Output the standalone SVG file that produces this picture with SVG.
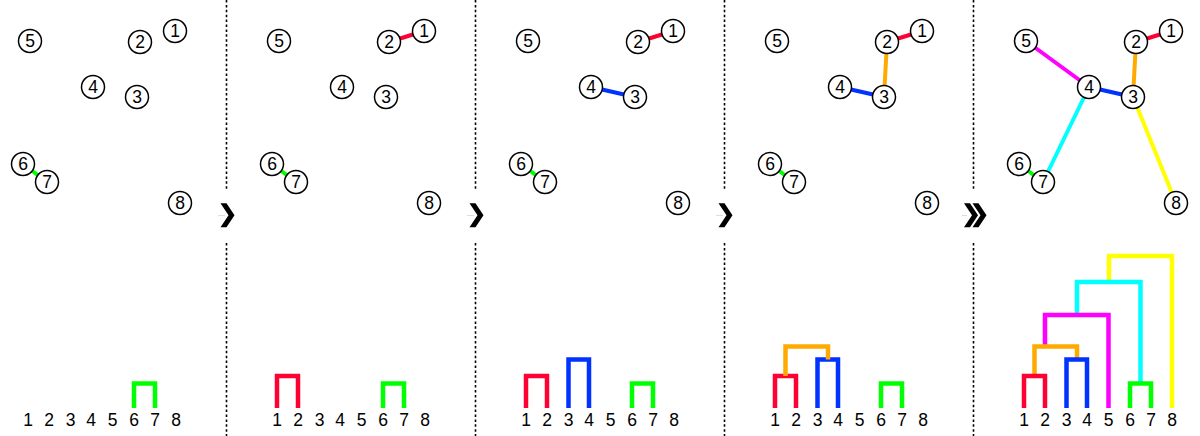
<svg xmlns="http://www.w3.org/2000/svg" width="1200" height="436" viewBox="0 0 1200 436">
<style>
.n circle{fill:#fff;stroke:#000;stroke-width:1.5}
.n text,.lbl{font-family:"Liberation Sans",Arial,sans-serif;font-size:17.5px;fill:#000;text-anchor:middle}
.e{stroke-width:4;stroke-linecap:butt;fill:none}
.d{stroke-width:4.5;fill:none;stroke-linejoin:miter}
.red{stroke:#ff0033}.orange{stroke:#ffaa00}.blue{stroke:#0033ff}.green{stroke:#00ff00}.magenta{stroke:#ff00ff}.cyan{stroke:#00ffff}.yellow{stroke:#ffff00}
.sep{stroke:#000;stroke-width:1.6;stroke-dasharray:2.5 2.4}
.chev{fill:#000}
</style>
<defs>
<g id="leaves">
<text class="lbl" x="28" y="425.5">1</text><text class="lbl" x="49" y="425.5">2</text><text class="lbl" x="70.5" y="425.5">3</text><text class="lbl" x="91" y="425.5">4</text><text class="lbl" x="112.5" y="425.5">5</text><text class="lbl" x="134" y="425.5">6</text><text class="lbl" x="155" y="425.5">7</text><text class="lbl" x="176" y="425.5">8</text>
</g>
<polygon id="chev" points="0,0 6,0 14,12 6,24 0,24 8,12"/>
</defs>

<!-- separators -->
<g id="separators">
<line class="sep" x1="226.5" y1="0" x2="226.5" y2="189"/><line class="sep" x1="226.5" y1="243" x2="226.5" y2="436"/>
<line class="sep" x1="475.5" y1="0" x2="475.5" y2="189"/><line class="sep" x1="475.5" y1="243" x2="475.5" y2="436"/>
<line class="sep" x1="724.5" y1="0" x2="724.5" y2="189"/><line class="sep" x1="724.5" y1="243" x2="724.5" y2="436"/>
<line class="sep" x1="973.5" y1="0" x2="973.5" y2="189"/><line class="sep" x1="973.5" y1="243" x2="973.5" y2="436"/>
</g>
<g id="arrows">
<line x1="218" y1="215.5" x2="225" y2="215.5" stroke="#ddd" stroke-width="1"/>
<use href="#chev" class="chev" x="220.5" y="203.3"/>
<line x1="467" y1="215.5" x2="474" y2="215.5" stroke="#ddd" stroke-width="1"/>
<use href="#chev" class="chev" x="469.5" y="203.3"/>
<line x1="716" y1="215.5" x2="723" y2="215.5" stroke="#ddd" stroke-width="1"/>
<use href="#chev" class="chev" x="718.5" y="203.3"/>
<line x1="962" y1="215.5" x2="967" y2="215.5" stroke="#ddd" stroke-width="1"/>
<use href="#chev" class="chev" x="964" y="203.3"/>
<use href="#chev" class="chev" x="972.5" y="203.3"/>
</g>

<!-- Panel 1 -->
<g id="panel1">
<g id="p1-connectors">
<line class="e green" x1="23" y1="164" x2="47" y2="182"/>
<path class="d green" d="M134,408V383.5H155V408"/>
</g>
<g class="n" id="p1-n1"><circle cx="175" cy="31" r="11.5"/><text x="175" y="37.3">1</text></g>
<g class="n" id="p1-n2"><circle cx="140" cy="42" r="11.5"/><text x="140" y="48.3">2</text></g>
<g class="n" id="p1-n3"><circle cx="137" cy="97" r="11.5"/><text x="137" y="103.3">3</text></g>
<g class="n" id="p1-n4"><circle cx="93" cy="87" r="11.5"/><text x="93" y="93.3">4</text></g>
<g class="n" id="p1-n5"><circle cx="30" cy="41" r="11.5"/><text x="30" y="47.3">5</text></g>
<g class="n" id="p1-n6"><circle cx="23" cy="164" r="11.5"/><text x="23" y="170.3">6</text></g>
<g class="n" id="p1-n7"><circle cx="47" cy="182" r="11.5"/><text x="47" y="188.3">7</text></g>
<g class="n" id="p1-n8"><circle cx="180" cy="203" r="11.5"/><text x="180" y="209.3">8</text></g>
<use href="#leaves"/>
</g>

<!-- Panel 2 -->
<g id="panel2" transform="translate(249,0)">
<g id="p2-connectors">
<line class="e red" x1="175" y1="31" x2="140" y2="42"/>
<line class="e green" x1="23" y1="164" x2="47" y2="182"/>
<path class="d red" d="M28,408V376H49V408"/>
<path class="d green" d="M134,408V383.5H155V408"/>
</g>
<g class="n" id="p2-n1"><circle cx="175" cy="31" r="11.5"/><text x="175" y="37.3">1</text></g>
<g class="n" id="p2-n2"><circle cx="140" cy="42" r="11.5"/><text x="140" y="48.3">2</text></g>
<g class="n" id="p2-n3"><circle cx="137" cy="97" r="11.5"/><text x="137" y="103.3">3</text></g>
<g class="n" id="p2-n4"><circle cx="93" cy="87" r="11.5"/><text x="93" y="93.3">4</text></g>
<g class="n" id="p2-n5"><circle cx="30" cy="41" r="11.5"/><text x="30" y="47.3">5</text></g>
<g class="n" id="p2-n6"><circle cx="23" cy="164" r="11.5"/><text x="23" y="170.3">6</text></g>
<g class="n" id="p2-n7"><circle cx="47" cy="182" r="11.5"/><text x="47" y="188.3">7</text></g>
<g class="n" id="p2-n8"><circle cx="180" cy="203" r="11.5"/><text x="180" y="209.3">8</text></g>
<use href="#leaves"/>
</g>

<!-- Panel 3 -->
<g id="panel3" transform="translate(498,0)">
<g id="p3-connectors">
<line class="e red" x1="175" y1="31" x2="140" y2="42"/>
<line class="e blue" x1="93" y1="87" x2="137" y2="97"/>
<line class="e green" x1="23" y1="164" x2="47" y2="182"/>
<path class="d red" d="M28,408V376H49V408"/>
<path class="d blue" d="M70.5,408V359.5H91V408"/>
<path class="d green" d="M134,408V383.5H155V408"/>
</g>
<g class="n" id="p3-n1"><circle cx="175" cy="31" r="11.5"/><text x="175" y="37.3">1</text></g>
<g class="n" id="p3-n2"><circle cx="140" cy="42" r="11.5"/><text x="140" y="48.3">2</text></g>
<g class="n" id="p3-n3"><circle cx="137" cy="97" r="11.5"/><text x="137" y="103.3">3</text></g>
<g class="n" id="p3-n4"><circle cx="93" cy="87" r="11.5"/><text x="93" y="93.3">4</text></g>
<g class="n" id="p3-n5"><circle cx="30" cy="41" r="11.5"/><text x="30" y="47.3">5</text></g>
<g class="n" id="p3-n6"><circle cx="23" cy="164" r="11.5"/><text x="23" y="170.3">6</text></g>
<g class="n" id="p3-n7"><circle cx="47" cy="182" r="11.5"/><text x="47" y="188.3">7</text></g>
<g class="n" id="p3-n8"><circle cx="180" cy="203" r="11.5"/><text x="180" y="209.3">8</text></g>
<use href="#leaves"/>
</g>

<!-- Panel 4 -->
<g id="panel4" transform="translate(747,0)">
<g id="p4-connectors">
<line class="e red" x1="175" y1="31" x2="140" y2="42"/>
<line class="e orange" x1="140" y1="42" x2="137" y2="97"/>
<line class="e blue" x1="93" y1="87" x2="137" y2="97"/>
<line class="e green" x1="23" y1="164" x2="47" y2="182"/>
<path class="d red" d="M28,408V376H49V408"/>
<path class="d blue" d="M70.5,408V359.5H91V408"/>
<path class="d orange" d="M38.5,376V346.5H81V359.5"/>
<path class="d green" d="M134,408V383.5H155V408"/>
</g>
<g class="n" id="p4-n1"><circle cx="175" cy="31" r="11.5"/><text x="175" y="37.3">1</text></g>
<g class="n" id="p4-n2"><circle cx="140" cy="42" r="11.5"/><text x="140" y="48.3">2</text></g>
<g class="n" id="p4-n3"><circle cx="137" cy="97" r="11.5"/><text x="137" y="103.3">3</text></g>
<g class="n" id="p4-n4"><circle cx="93" cy="87" r="11.5"/><text x="93" y="93.3">4</text></g>
<g class="n" id="p4-n5"><circle cx="30" cy="41" r="11.5"/><text x="30" y="47.3">5</text></g>
<g class="n" id="p4-n6"><circle cx="23" cy="164" r="11.5"/><text x="23" y="170.3">6</text></g>
<g class="n" id="p4-n7"><circle cx="47" cy="182" r="11.5"/><text x="47" y="188.3">7</text></g>
<g class="n" id="p4-n8"><circle cx="180" cy="203" r="11.5"/><text x="180" y="209.3">8</text></g>
<use href="#leaves"/>
</g>

<!-- Panel 5 -->
<g id="panel5" transform="translate(996,0)">
<g id="p5-connectors">
<line class="e red" x1="175" y1="31" x2="140" y2="42"/>
<line class="e orange" x1="140" y1="42" x2="137" y2="97"/>
<line class="e blue" x1="93" y1="87" x2="137" y2="97"/>
<line class="e magenta" x1="30" y1="41" x2="93" y2="87"/>
<line class="e cyan" x1="93" y1="87" x2="47" y2="182"/>
<line class="e yellow" x1="137" y1="97" x2="180" y2="203"/>
<line class="e green" x1="23" y1="164" x2="47" y2="182"/>
<path class="d yellow" d="M113,282V256H176V408"/>
<path class="d cyan" d="M81,315V282H144.5V383.5"/>
<path class="d magenta" d="M49,346.5V315H112.5V408"/>
<path class="d orange" d="M38.5,376V346.5H81V359.5"/>
<path class="d red" d="M28,408V376H49V408"/>
<path class="d blue" d="M70.5,408V359.5H91V408"/>
<path class="d green" d="M134,408V383.5H155V408"/>
</g>
<g class="n" id="p5-n1"><circle cx="175" cy="31" r="11.5"/><text x="175" y="37.3">1</text></g>
<g class="n" id="p5-n2"><circle cx="140" cy="42" r="11.5"/><text x="140" y="48.3">2</text></g>
<g class="n" id="p5-n3"><circle cx="137" cy="97" r="11.5"/><text x="137" y="103.3">3</text></g>
<g class="n" id="p5-n4"><circle cx="93" cy="87" r="11.5"/><text x="93" y="93.3">4</text></g>
<g class="n" id="p5-n5"><circle cx="30" cy="41" r="11.5"/><text x="30" y="47.3">5</text></g>
<g class="n" id="p5-n6"><circle cx="23" cy="164" r="11.5"/><text x="23" y="170.3">6</text></g>
<g class="n" id="p5-n7"><circle cx="47" cy="182" r="11.5"/><text x="47" y="188.3">7</text></g>
<g class="n" id="p5-n8"><circle cx="180" cy="203" r="11.5"/><text x="180" y="209.3">8</text></g>
<use href="#leaves"/>
</g>
</svg>
